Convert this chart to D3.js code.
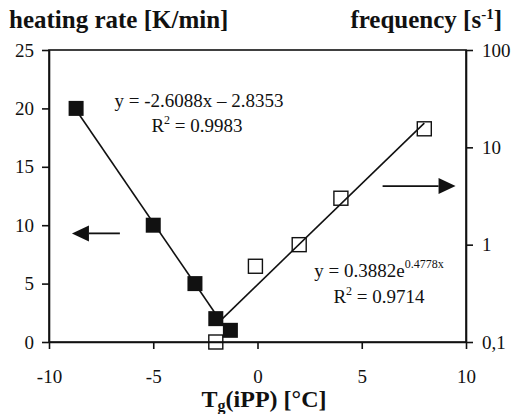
<!DOCTYPE html>
<html>
<head>
<meta charset="utf-8">
<script src="https://cdn.jsdelivr.net/npm/d3@7"></script>
<style>
  html, body { margin: 0; padding: 0; background: #fff; }
  svg { display: block; }
  text { font-family: "Liberation Serif", "Times New Roman", serif; fill: #111; }
</style>
</head>
<body>
<svg id="chart" width="514" height="414"></svg>
<script>
// Heating rate vs. Tg(iPP) (filled squares, left axis)
const tempHeat = [-8.7, -5, -3, -2, -1.3];
const heatingRate = [20, 10, 5, 2, 1];

// Frequency vs. Tg(iPP) (open squares, right log axis)
const tempFreq = [-2, -0.1, 2, 4, 8];
const frequency = [0.1, 0.6, 1.0, 3.0, 15.5];

// Trendline coefficients shown in the equation labels
const linFit = { slope: -2.6088, intercept: -2.8353 };
const expFit = { a: 0.3882, b: 0.4778 };

// Axis ticks
const xTicks = [-10, -5, 0, 5, 10];
const heatTicks = [0, 5, 10, 15, 20, 25];
const freqTicks = [0.1, 1, 10, 100];
const freqTickLabels = ["0,1", "1", "10", "100"];

const W = 514, H = 414;
const margin = { top: 50, right: 48, bottom: 72, left: 49 };
const svg = d3.select("#chart");

const x = d3.scaleLinear().domain([-10, 10]).range([margin.left, W - margin.right]);
const yL = d3.scaleLinear().domain([0, 25]).range([H - margin.bottom, margin.top]);
const yR = d3.scaleLog().domain([0.1, 100]).range([H - margin.bottom, margin.top]);

const ink = "#111";

// plot frame
svg.append("rect")
  .attr("x", x(-10)).attr("y", yL(25))
  .attr("width", x(10) - x(-10)).attr("height", yL(0) - yL(25))
  .attr("fill", "none").attr("stroke", ink).attr("stroke-width", 1.6);

function styleAxis(g) {
  g.select(".domain").attr("stroke", ink).attr("stroke-width", 1.6);
  g.selectAll(".tick line").attr("stroke", ink).attr("stroke-width", 1.6);
  g.selectAll(".tick text")
    .attr("font-family", '"Liberation Serif", "Times New Roman", serif')
    .attr("font-size", 19).attr("fill", ink);
}

svg.append("g")
  .attr("transform", `translate(0,${yL(0)})`)
  .call(d3.axisBottom(x).tickValues(xTicks).tickSize(7).tickSizeOuter(0).tickPadding(21)
    .tickFormat(d => String(d)))
  .call(styleAxis);

svg.append("g")
  .attr("transform", `translate(${x(-10)},0)`)
  .call(d3.axisLeft(yL).tickValues(heatTicks).tickSize(7).tickSizeOuter(0).tickPadding(8))
  .call(styleAxis);

svg.append("g")
  .attr("transform", `translate(${x(10)},0)`)
  .call(d3.axisRight(yR).tickValues(freqTicks).tickSize(7).tickSizeOuter(0).tickPadding(9)
    .tickFormat((d, i) => freqTickLabels[i]))
  .call(styleAxis);

// fitted lines
const xHeat = d3.extent(tempHeat);
svg.append("path")
  .datum(xHeat.map(t => [t, linFit.slope * t + linFit.intercept]))
  .attr("d", d3.line().x(d => x(d[0])).y(d => yL(d[1])))
  .attr("fill", "none").attr("stroke", ink).attr("stroke-width", 1.6);

const xFreq = d3.extent(tempFreq);
svg.append("path")
  .datum(xFreq.map(t => [t, expFit.a * Math.exp(expFit.b * t)]))
  .attr("d", d3.line().x(d => x(d[0])).y(d => yR(d[1])))
  .attr("fill", "none").attr("stroke", ink).attr("stroke-width", 1.6);

// markers
const sF = 15, sO = 14;
svg.append("g").selectAll("rect")
  .data(d3.zip(tempFreq, frequency))
  .join("rect")
  .attr("x", d => x(d[0]) - sO / 2).attr("y", d => yR(d[1]) - sO / 2)
  .attr("width", sO).attr("height", sO)
  .attr("fill", "none").attr("stroke", ink).attr("stroke-width", 1.4);

svg.append("g").selectAll("rect")
  .data(d3.zip(tempHeat, heatingRate))
  .join("rect")
  .attr("x", d => x(d[0]) - sF / 2).attr("y", d => yL(d[1]) - sF / 2)
  .attr("width", sF).attr("height", sF)
  .attr("fill", ink);

// axis pointers
function arrow(x0, x1, y, dir) {
  const head = 17, half = 8;
  svg.append("line")
    .attr("x1", x0).attr("x2", x1 - dir * head).attr("y1", y).attr("y2", y)
    .attr("stroke", ink).attr("stroke-width", 1.8);
  svg.append("path")
    .attr("d", `M${x1},${y}L${x1 - dir * head},${y - half}L${x1 - dir * head},${y + half}Z`)
    .attr("fill", ink);
}
arrow(x(-6.6), x(-8.9), yL(9.3), -1);
arrow(x(6.0), x(9.5), yR(4.0), 1);

// equations
const eqSize = 19;
svg.append("text").attr("x", 199).attr("y", 107)
  .attr("text-anchor", "middle").attr("font-size", eqSize)
  .text(`y = ${linFit.slope}x \u2013 ${Math.abs(linFit.intercept)}`);
const r1 = svg.append("text").attr("x", 197).attr("y", 132)
  .attr("text-anchor", "middle").attr("font-size", eqSize);
r1.append("tspan").text("R");
r1.append("tspan").attr("font-size", 12).attr("dy", -8).text("2");
r1.append("tspan").attr("dy", 8).text(" = 0.9983");

const e2 = svg.append("text").attr("x", 379).attr("y", 277)
  .attr("text-anchor", "middle").attr("font-size", eqSize);
e2.append("tspan").text(`y = ${expFit.a}e`);
e2.append("tspan").attr("font-size", 12).attr("dy", -9).text(`${expFit.b}x`);
const r2 = svg.append("text").attr("x", 379).attr("y", 303)
  .attr("text-anchor", "middle").attr("font-size", eqSize);
r2.append("tspan").text("R");
r2.append("tspan").attr("font-size", 12).attr("dy", -8).text("2");
r2.append("tspan").attr("dy", 8).text(" = 0.9714");

// titles
svg.append("text").attr("x", 9).attr("y", 28)
  .attr("font-size", 25).attr("font-weight", "bold")
  .text("heating rate [K/min]");

const ft = svg.append("text").attr("x", 502).attr("y", 28)
  .attr("text-anchor", "end").attr("font-size", 25).attr("font-weight", "bold");
ft.append("tspan").text("frequency [s");
ft.append("tspan").attr("font-size", 15).attr("dy", -9).text("-1");
ft.append("tspan").attr("dy", 9).text("]");

const xt = svg.append("text").attr("x", 264).attr("y", 407)
  .attr("text-anchor", "middle").attr("font-size", 24).attr("font-weight", "bold");
xt.append("tspan").text("T");
xt.append("tspan").attr("font-size", 16).attr("dy", 4).text("g");
xt.append("tspan").attr("dy", -4).text("(iPP) [\u00B0C]");
</script>
</body>
</html>
